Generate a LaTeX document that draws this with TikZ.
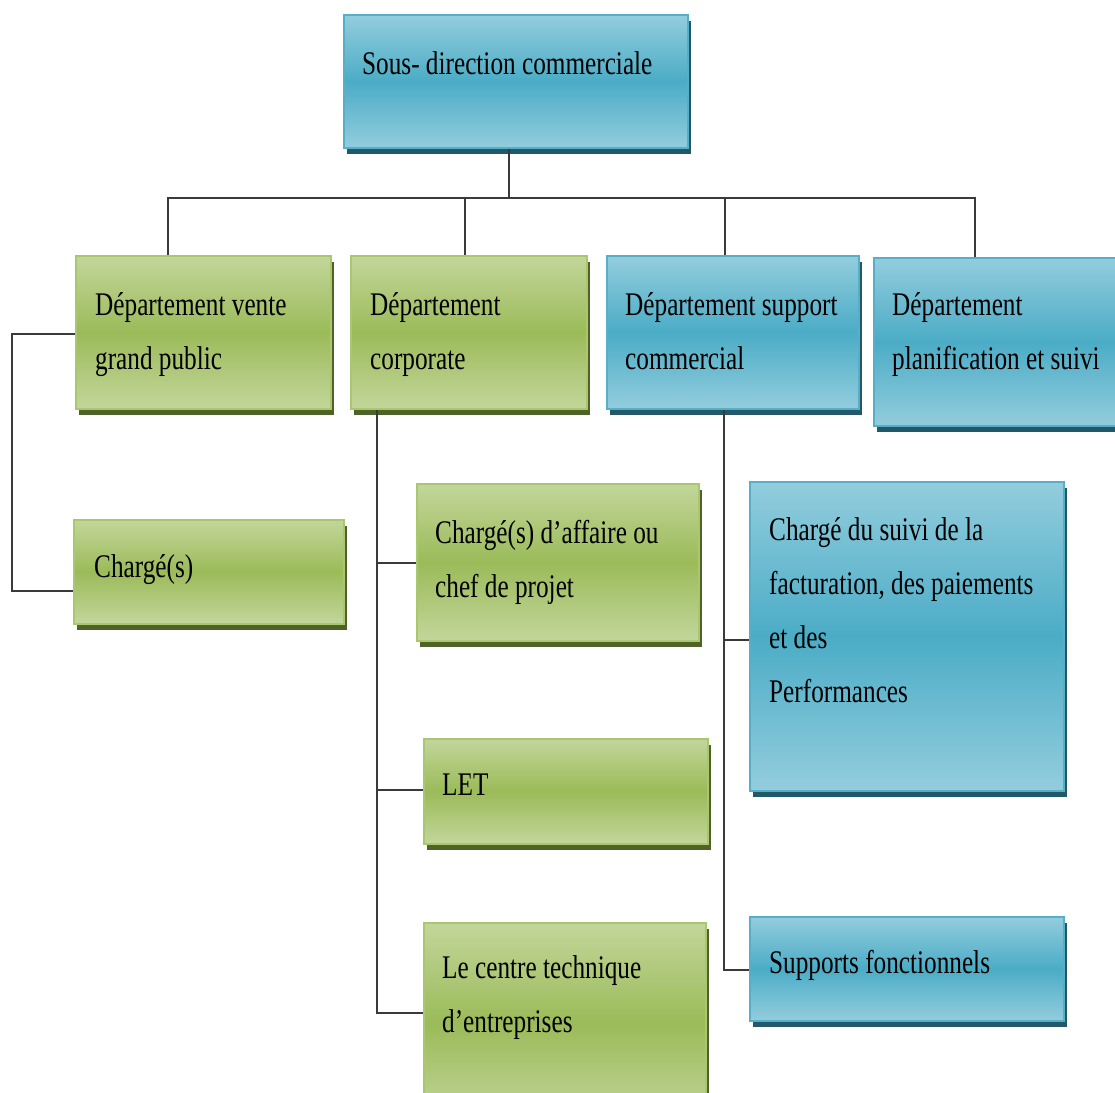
\documentclass[tikz,border=0pt]{standalone}
\usepackage{fontspec}
\setmainfont{Liberation Serif}[FakeStretch=0.765]
\newcommand\lblfont{\fontsize{33}{54}\selectfont
  \parindent=0pt\spaceskip=6.3pt plus 1pt minus 1pt\relax\xspaceskip=6.3pt\relax}
\definecolor{gtop}{HTML}{C3D69B}
\definecolor{gmid}{HTML}{9BBB59}
\definecolor{gline}{HTML}{A9C76E}
\definecolor{gshadow}{HTML}{4F6228}
\definecolor{btop}{HTML}{93CDDD}
\definecolor{bmid}{HTML}{4BACC6}
\definecolor{bline}{HTML}{55AFC8}
\definecolor{bshadow}{HTML}{235868}
\definecolor{wire}{HTML}{3A3A3A}
\tikzset{
  box/.style={rectangle, anchor=north west, inner sep=0pt, line width=1.5pt},
  gbox/.style={box, draw=gline, top color=gtop, bottom color=gtop, middle color=gmid,
    preaction={fill=gshadow, transform canvas={shift={(3pt,-6pt)}}}},
  bbox/.style={box, draw=bline, top color=btop, bottom color=btop, middle color=bmid,
    preaction={fill=bshadow, transform canvas={shift={(3pt,-6pt)}}}},
  lbl/.style={anchor=base west, inner sep=0pt, text width=330pt,
    font=\lblfont, execute at begin node={\spaceskip=6.3pt plus 1pt minus 1pt\relax\xspaceskip=6.3pt\relax}},
  conn/.style={draw=wire, line width=1.8pt},
}
\begin{document}
\begin{tikzpicture}[x=1pt, y=-1pt]
\useasboundingbox (0,0) rectangle (1115,1092);
\clip (0,0) rectangle (1115,1092);

% junction points of the connectors
\coordinate (hub) at (509,198);
\coordinate (jv) at (168,198);
\coordinate (jc) at (465,198);
\coordinate (js) at (725,198);
\coordinate (jp) at (975,198);
\coordinate (vl) at (12,334);
\coordinate (vc) at (12,591);
\coordinate (cb1) at (377,563);
\coordinate (cb2) at (377,790);
\coordinate (ct) at (377,1013);
\coordinate (sb1) at (724,640);
\coordinate (st) at (724,970);

% boxes
\node[bbox, minimum width=344, minimum height=133] (sdc) at (343,14) {};
\node[gbox, minimum width=255, minimum height=153] (vente) at (75,255) {};
\node[gbox, minimum width=236, minimum height=153] (corp) at (350,255) {};
\node[bbox, minimum width=252, minimum height=153] (support) at (606,255) {};
\node[bbox, minimum width=260, minimum height=168] (planif) at (873,257) {};
\node[gbox, minimum width=270, minimum height=104] (charges) at (73,519) {};
\node[gbox, minimum width=282, minimum height=157] (affaire) at (416,483) {};
\node[gbox, minimum width=284, minimum height=105] (let) at (423,738) {};
\node[gbox, minimum width=282, minimum height=200] (centre) at (423,922) {};
\node[bbox, minimum width=314, minimum height=309] (suivi) at (749,481) {};
\node[bbox, minimum width=314, minimum height=104] (supports) at (749,916) {};

% labels
\node[lbl] (sdc-t) at (362,74) {Sous- direction commerciale};
\node[lbl] (vente-t) at (95,315) {Département vente\\grand public};
\node[lbl] (corp-t) at (370,315) {Département\\corporate};
\node[lbl] (support-t) at (625,315) {Département support\\commercial};
\node[lbl] (planif-t) at (892,315) {Département\\planification et suivi};
\node[lbl] (charges-t) at (94,577) {Chargé(s)};
\node[lbl] (affaire-t) at (435,543) {Chargé(s) d’affaire ou\\chef de projet};
\node[lbl] (let-t) at (442,795) {LET};
\node[lbl] (centre-t) at (442,978) {Le centre technique\\d’entreprises};
\node[lbl] (suivi-t) at (769,540) {Chargé du suivi de la\\facturation, des paiements\\et des\\Performances};
\node[lbl] (supports-t) at (769,973) {Supports fonctionnels};

% connectors
\draw[conn] (sdc.south -| hub) -- (hub);
\draw[conn] (jv |- vente.north) -- (jv) -- (jp) -- (jp |- planif.north);
\draw[conn] (jc) -- (jc |- corp.north);
\draw[conn] (js) -- (js |- support.north);
\draw[conn] (vente.west |- vl) -- (vl) -- (vc) -- (vc -| charges.west);
\draw[conn] (ct |- corp.south) -- (ct) -- (ct -| centre.west);
\draw[conn] (cb1) -- (cb1 -| affaire.west);
\draw[conn] (cb2) -- (cb2 -| let.west);
\draw[conn] (st |- support.south) -- (st) -- (st -| supports.west);
\draw[conn] (sb1) -- (sb1 -| suivi.west);
\end{tikzpicture}
\end{document}
